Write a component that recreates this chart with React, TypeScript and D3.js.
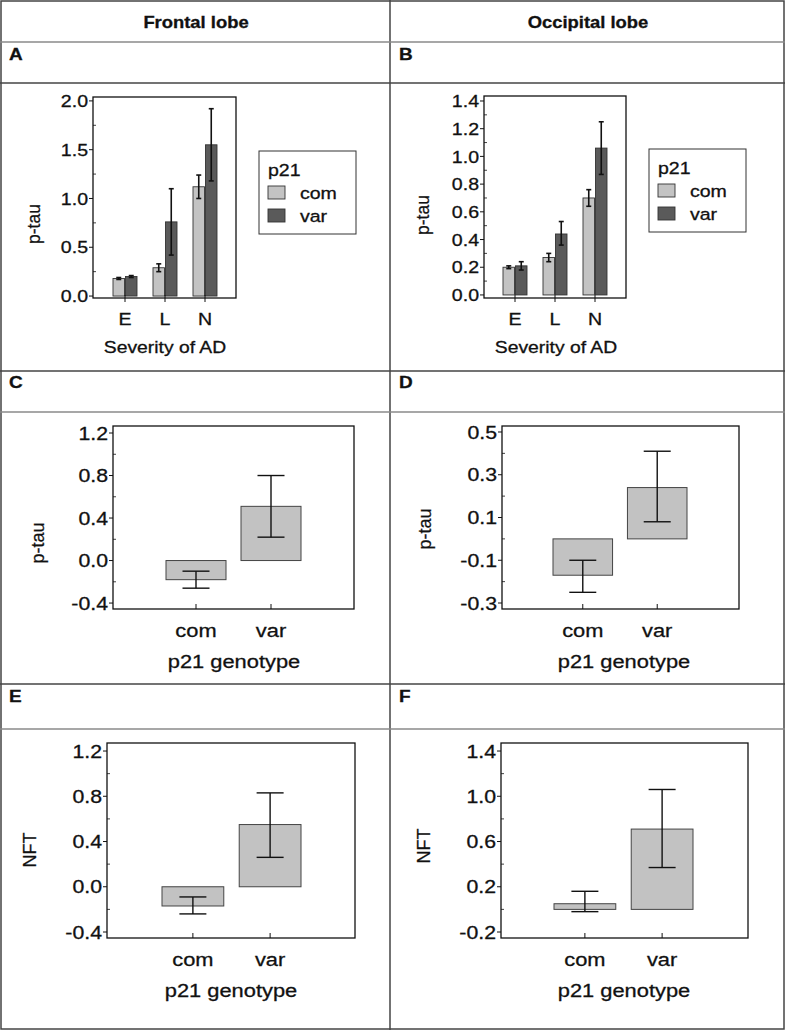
import React from "react"
import * as d3 from "d3"

// ---------- Data ----------
const severity = ["E", "L", "N"]
const genotypes = ["com", "var"]

// A: frontal lobe, p-tau by severity
const frontalCom = [0.18, 0.29, 1.12]
const frontalComLo = [0.17, 0.25, 1.0]
const frontalComHi = [0.19, 0.33, 1.24]
const frontalVar = [0.2, 0.76, 1.55]
const frontalVarLo = [0.19, 0.42, 1.18]
const frontalVarHi = [0.21, 1.1, 1.92]

// B: occipital lobe, p-tau by severity
const occCom = [0.2, 0.27, 0.7]
const occComLo = [0.19, 0.24, 0.64]
const occComHi = [0.21, 0.3, 0.76]
const occVar = [0.21, 0.44, 1.06]
const occVarLo = [0.18, 0.36, 0.87]
const occVarHi = [0.24, 0.53, 1.25]

// C-F: by genotype
const ptauFrontal = [-0.18, 0.51]
const ptauFrontalLo = [-0.26, 0.22]
const ptauFrontalHi = [-0.1, 0.8]
const ptauOcc = [-0.17, 0.24]
const ptauOccLo = [-0.25, 0.08]
const ptauOccHi = [-0.1, 0.41]
const nftFrontal = [-0.17, 0.55]
const nftFrontalLo = [-0.24, 0.26]
const nftFrontalHi = [-0.09, 0.83]
const nftOcc = [0.05, 0.71]
const nftOccLo = [-0.02, 0.37]
const nftOccHi = [0.16, 1.06]

// Tick values
const ticksA = [0, 0.5, 1.0, 1.5, 2.0]
const ticksB = [0, 0.2, 0.4, 0.6, 0.8, 1.0, 1.2, 1.4]
const ticksC = [-0.4, 0.0, 0.4, 0.8, 1.2]
const ticksD = [-0.3, -0.1, 0.1, 0.3, 0.5]
const ticksE = [-0.4, 0.0, 0.4, 0.8, 1.2]
const ticksF = [-0.2, 0.2, 0.6, 1.0, 1.4]

// ---------- Styles ----------
const FONT = "'Liberation Sans', Arial, Helvetica, sans-serif"
const INK = "#111"
const SX = 1.15 // text in the source is slightly stretched horizontally
const LIGHT = "#c3c3c3"
const DARK = "#5a5a5a"
const fmt = d3.formatLocale({ decimal: ".", thousands: ",", grouping: [3], currency: ["", ""], minus: "-" }).format(".1f")

const Txt = ({ x, y, size, anchor = "start", weight = "normal", children }: any) => (
    <text
        transform={`translate(${x},${y}) scale(${SX},1)`}
        textAnchor={anchor}
        fontSize={size}
        fontWeight={weight}
        fontFamily={FONT}
        fill={INK}
        stroke={INK}
        strokeWidth={0.3}
    >
        {children}
    </text>
)

const VLabel = ({ x, y, size, children }: any) => (
    <text
        transform={`translate(${x},${y}) rotate(-90)`}
        textAnchor="middle"
        dy="0.35em"
        fontSize={size}
        fontFamily={FONT}
        fill={INK}
        stroke={INK}
        strokeWidth={0.25}
    >
        {children}
    </text>
)

const minorTicks = (ticks: number[], step: number) =>
    d3.range(ticks[0], ticks[ticks.length - 1] + 1e-9, step)
        .filter(v => !ticks.some(t => Math.abs(t - v) < 1e-6))

// Y axis with outward major ticks and inward minor ticks
const YAxis = ({ y, left, ticks, minor, size }: any) => (
    <g>
        {minorTicks(ticks, minor).map((v, i) => (
            <line key={"m" + i} x1={left} x2={left + 3} y1={y(v)} y2={y(v)} stroke={INK} strokeWidth={0.8} />
        ))}
        {ticks.map((v: number, i: number) => (
            <g key={i}>
                <line x1={left - 4} x2={left} y1={y(v)} y2={y(v)} stroke={INK} strokeWidth={1} />
                <Txt x={left - 5} y={y(v) + size * 0.36} size={size} anchor="end">{fmt(v)}</Txt>
            </g>
        ))}
    </g>
)

// ---------- Panel A / B: grouped bars ----------
const GroupedPanel = ({ frame, domain, ticks, minor, bandRange, com, comLo, comHi, vr, vrLo, vrHi, yLabel, xTitle, legend }: any) => {
    const y = d3.scaleLinear().domain(domain).range([frame.b, frame.t])
    const x = d3.scaleBand<string>().domain(severity).range(bandRange).paddingInner(0.4).paddingOuter(0.2)
    const sub = d3.scaleBand<string>().domain(genotypes).range([0, x.bandwidth()]).paddingInner(0.08)
    const series = [
        { key: "com", vals: com, lo: comLo, hi: comHi, fill: LIGHT },
        { key: "var", vals: vr, lo: vrLo, hi: vrHi, fill: DARK },
    ]
    return (
        <g>
            <rect x={frame.l} y={frame.t} width={frame.r - frame.l} height={frame.b - frame.t} fill="none" stroke={INK} strokeWidth={1.3} />
            {series.map(s => s.vals.map((v: number, i: number) => {
                const x0 = (x(severity[i]) ?? 0) + (sub(s.key) ?? 0)
                const cx = x0 + sub.bandwidth() / 2
                return (
                    <g key={s.key + i}>
                        <rect x={x0} y={y(v)} width={sub.bandwidth()} height={y(0) - y(v)} fill={s.fill} stroke="#333" strokeWidth={0.9} />
                        <line x1={cx} x2={cx} y1={y(s.lo[i])} y2={y(s.hi[i])} stroke="#111" strokeWidth={1.6} />
                        <line x1={cx - 2.5} x2={cx + 2.5} y1={y(s.lo[i])} y2={y(s.lo[i])} stroke="#111" strokeWidth={1.6} />
                        <line x1={cx - 2.5} x2={cx + 2.5} y1={y(s.hi[i])} y2={y(s.hi[i])} stroke="#111" strokeWidth={1.6} />
                    </g>
                )
            }))}
            <YAxis y={y} left={frame.l} ticks={ticks} minor={minor} size={17} />
            {severity.map(c => {
                const cx = (x(c) ?? 0) + x.bandwidth() / 2
                return (
                    <g key={c}>
                        <line x1={cx} x2={cx} y1={frame.b - 3} y2={frame.b + 4} stroke={INK} strokeWidth={1} />
                        <Txt x={cx} y={frame.b + 27} size={17} anchor="middle">{c}</Txt>
                    </g>
                )
            })}
            <Txt x={xTitle.x} y={xTitle.y} size={16.8} anchor="middle">Severity of AD</Txt>
            <VLabel x={yLabel.x} y={yLabel.y} size={17.5}>p-tau</VLabel>
            <g transform={`translate(${legend.x},${legend.y})`}>
                <rect x={0} y={0} width={97} height={83} fill="#fff" stroke="#333" strokeWidth={1} />
                <Txt x={9} y={25} size={17}>p21</Txt>
                {series.map((s, i) => (
                    <g key={s.key}>
                        <rect x={9} y={35 + i * 23} width={17} height={13} fill={s.fill} stroke="#333" strokeWidth={0.9} />
                        <Txt x={41} y={48 + i * 23} size={17}>{s.key}</Txt>
                    </g>
                ))}
            </g>
        </g>
    )
}

// ---------- Panel C-F: two bars ----------
const SimplePanel = ({ frame, domain, ticks, minor, bandRange, vals, lo, hi, yLabel, yTitle, xTitleX }: any) => {
    const y = d3.scaleLinear().domain(domain).range([frame.b, frame.t])
    const x = d3.scaleBand<string>().domain(genotypes).range(bandRange).paddingInner(0.2)
    return (
        <g>
            <rect x={frame.l} y={frame.t} width={frame.r - frame.l} height={frame.b - frame.t} fill="none" stroke={INK} strokeWidth={1.3} />
            {vals.map((v: number, i: number) => {
                const x0 = x(genotypes[i]) ?? 0
                const cx = x0 + x.bandwidth() / 2
                return (
                    <g key={i}>
                        <rect x={x0} y={Math.min(y(v), y(0))} width={x.bandwidth()} height={Math.abs(y(0) - y(v))} fill="#c2c2c2" stroke="#444" strokeWidth={1} />
                        <line x1={cx} x2={cx} y1={y(lo[i])} y2={y(hi[i])} stroke="#111" strokeWidth={1.4} />
                        <line x1={cx - 13.5} x2={cx + 13.5} y1={y(lo[i])} y2={y(lo[i])} stroke="#111" strokeWidth={1.4} />
                        <line x1={cx - 13.5} x2={cx + 13.5} y1={y(hi[i])} y2={y(hi[i])} stroke="#111" strokeWidth={1.4} />
                        <line x1={cx} x2={cx} y1={frame.b - 5} y2={frame.b} stroke={INK} strokeWidth={1} />
                        <Txt x={cx} y={frame.b + 28} size={19} anchor="middle">{genotypes[i]}</Txt>
                    </g>
                )
            })}
            <YAxis y={y} left={frame.l} ticks={ticks} minor={minor} size={18.5} />
            <Txt x={xTitleX} y={frame.b + 59} size={19} anchor="middle">p21 genotype</Txt>
            <VLabel x={yLabel.x} y={yLabel.y} size={18}>{yTitle}</VLabel>
        </g>
    )
}

const App = () => {
    const W = 785
    const H = 1030
    const mid = 390
    const dark = "#444"
    const gray = "#8a8a8a"
    const hLines = [
        { y: 42, c: gray },
        { y: 83, c: dark },
        { y: 371, c: dark },
        { y: 412, c: gray },
        { y: 684, c: dark },
        { y: 729, c: gray },
    ]
    const letters = [
        { t: "A", y: 60 }, { t: "C", y: 388 }, { t: "E", y: 702 },
    ]
    return (
        <svg width={W} height={H} style={{ position: "absolute", left: 0, top: 0, background: "#fff" }}>
            <rect x={0} y={0} width={W} height={H} fill="#fff" />
            {/* table grid */}
            <rect x={1} y={1} width={W - 2} height={H - 2} fill="none" stroke={dark} strokeWidth={1.5} />
            <line x1={mid} x2={mid} y1={0} y2={H} stroke={dark} strokeWidth={1.5} />
            {hLines.map((l, i) => (
                <line key={i} x1={0} x2={W} y1={l.y} y2={l.y} stroke={l.c} strokeWidth={1.6} />
            ))}
            <Txt x={196} y={28} size={16} anchor="middle" weight="bold">Frontal lobe</Txt>
            <Txt x={588} y={28} size={16} anchor="middle" weight="bold">Occipital lobe</Txt>
            {letters.map(l => (
                <g key={l.t}>
                    <Txt x={9} y={l.y} size={16.5} weight="bold">{l.t}</Txt>
                    <Txt x={mid + 9} y={l.y} size={16.5} weight="bold">{String.fromCharCode(l.t.charCodeAt(0) + 1)}</Txt>
                </g>
            ))}

            <GroupedPanel
                frame={{ l: 93, r: 236, t: 97, b: 298 }}
                domain={[-0.02, 2.04]}
                ticks={ticksA}
                minor={0.25}
                bandRange={[105, 225]}
                com={frontalCom} comLo={frontalComLo} comHi={frontalComHi}
                vr={frontalVar} vrLo={frontalVarLo} vrHi={frontalVarHi}
                yLabel={{ x: 34, y: 224 }}
                xTitle={{ x: 165, y: 353 }}
                legend={{ x: 259, y: 151 }}
            />
            <GroupedPanel
                frame={{ l: 484, r: 626, t: 96, b: 298 }}
                domain={[-0.022, 1.436]}
                ticks={ticksB}
                minor={0.1}
                bandRange={[495, 615]}
                com={occCom} comLo={occComLo} comHi={occComHi}
                vr={occVar} vrLo={occVarLo} vrHi={occVarHi}
                yLabel={{ x: 423, y: 215 }}
                xTitle={{ x: 556, y: 353 }}
                legend={{ x: 649, y: 149 }}
            />
            <SimplePanel
                frame={{ l: 113, r: 354, t: 426, b: 609 }}
                domain={[-0.456, 1.266]}
                ticks={ticksC} minor={0.2}
                bandRange={[166, 301]}
                vals={ptauFrontal} lo={ptauFrontalLo} hi={ptauFrontalHi}
                yLabel={{ x: 38, y: 543 }} yTitle="p-tau" xTitleX={234}
            />
            <SimplePanel
                frame={{ l: 502, r: 739, t: 426, b: 609 }}
                domain={[-0.328, 0.528]}
                ticks={ticksD} minor={0.1}
                bandRange={[553, 687]}
                vals={ptauOcc} lo={ptauOccLo} hi={ptauOccHi}
                yLabel={{ x: 425, y: 529 }} yTitle="p-tau" xTitleX={624}
            />
            <SimplePanel
                frame={{ l: 107, r: 355, t: 743, b: 938 }}
                domain={[-0.453, 1.271]}
                ticks={ticksE} minor={0.2}
                bandRange={[162, 301]}
                vals={nftFrontal} lo={nftFrontalLo} hi={nftFrontalHi}
                yLabel={{ x: 30, y: 850 }} yTitle="NFT" xTitleX={231}
            />
            <SimplePanel
                frame={{ l: 501, r: 748, t: 743, b: 938 }}
                domain={[-0.253, 1.471]}
                ticks={ticksF} minor={0.2}
                bandRange={[554, 693]}
                vals={nftOcc} lo={nftOccLo} hi={nftOccHi}
                yLabel={{ x: 424, y: 846 }} yTitle="NFT" xTitleX={624}
            />
        </svg>
    )
}

export default App
